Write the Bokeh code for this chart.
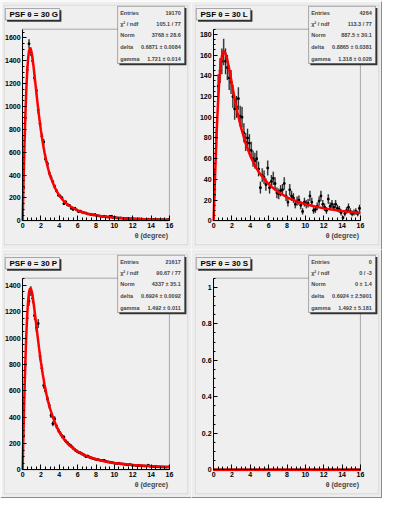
import math
from bokeh.plotting import figure
from bokeh.layouts import gridplot
from bokeh.models import Range1d, SingleIntervalTicker, Label, BoxAnnotation, ColumnDataSource
from bokeh.embed import file_html
from bokeh.resources import INLINE

# ---------------- data ----------------
x_lo, x_hi, n_bins = 0.0, 16.0, 80

g_counts = [290, 900, 1320, 1550, 1480, 1400, 1250, 1140, 970, 850,
            740, 690, 540, 500, 420, 380, 340, 300, 262, 225,
            215, 200, 150, 165, 140, 135, 110, 100, 110, 95,
            80, 85, 75, 70, 68, 60, 58, 55, 52, 54,
            45, 44, 40, 38, 40, 36, 33, 38, 40, 28,
            28, 26, 24, 25, 22, 22, 20, 21, 18, 17,
            18, 16, 15, 17, 14, 14, 13, 12, 14, 12,
            11, 12, 10, 11, 10, 9, 10, 9, 8, 12]
l_counts = [25, 80, 130, 145, 154, 163, 154, 148, 138, 134,
            120, 108, 110, 118, 101, 100, 85, 76, 80, 75,
            68, 60, 58, 60, 50, 32, 44, 42, 35, 51,
            32, 38, 41, 36, 27, 26, 29, 30, 36, 24,
            18, 30, 24, 22, 16, 19, 20, 15, 9, 18,
            16, 17, 24, 18, 10, 11, 14, 19, 24, 16,
            13, 10, 21, 14, 16, 13, 16, 12, 11, 8,
            3, 7, 10, 13, 9, 7, 8, 9, 7, 12]
p_counts = [260, 800, 1150, 1280, 1356, 1300, 1170, 1080, 1110, 860,
            770, 640, 600, 540, 490, 413, 350, 386, 330, 300,
            278, 255, 247, 218, 205, 190, 180, 165, 152, 142,
            133, 128, 120, 112, 100, 104, 96, 90, 86, 81,
            78, 76, 72, 70, 72, 62, 60, 58, 56, 52,
            50, 48, 50, 45, 44, 42, 40, 38, 40, 36,
            35, 34, 33, 32, 31, 30, 29, 28, 35, 27,
            26, 24, 25, 23, 22, 22, 21, 20, 20, 22]
s_counts = [0] * 80

fit_x = [0, 0.1, 0.2, 0.3, 0.4, 0.5, 0.6, 0.7, 0.8, 0.9, 1.0, 1.1, 1.2, 1.3, 1.4, 1.5, 1.6,
         1.8, 2.0, 2.2, 2.4, 2.6, 2.8, 3.0, 3.5, 4.0, 4.5, 5, 6, 7, 8, 9, 10, 12, 14, 16]
g_fit = [0, 331, 641, 914, 1138, 1307, 1422, 1487, 1511, 1500, 1465, 1411, 1346, 1274, 1199, 1124, 1050,
         912, 789, 683, 593, 516, 451, 396, 292, 221, 171.5, 135.9, 89.9, 63.0, 46.0, 34.8, 27.1, 17.5, 12.1, 8.7]
l_fit = [0, 27.1, 53.1, 77.3, 98.8, 117.2, 132.4, 144.2, 152.9, 158.7, 162.1, 163.5, 163.1, 161.4, 158.6, 155.1, 151.0,
         141.9, 132.1, 122.5, 113.3, 104.8, 96.9, 89.8, 74.6, 62.7, 53.4, 46.0, 35.3, 27.9, 22.7, 18.9, 16.0, 12.0, 9.4, 7.5]
p_fit = [0, 295, 573, 817, 1019, 1173, 1281, 1346, 1375, 1375, 1353, 1315, 1266, 1211, 1153, 1093, 1033,
         919, 815, 724, 644, 574, 514, 462, 360, 286, 233, 192, 137, 103, 80, 63, 52, 36, 27, 21]
s_fit_x = [0, 16]
s_fit = [0, 0]

titles = ["PSF \u03b8 = 30 G", "PSF \u03b8 = 30 L", "PSF \u03b8 = 30 P", "PSF \u03b8 = 30 S"]
stat_names = ["Entries", "\u03c7\u00b2 / ndf", "Norm", "delta", "gamma"]
g_stats = ["19170", "105.1 / 77", "3768 \u00b1 28.6", "0.6871 \u00b1 0.0084", "1.721 \u00b1 0.014"]
l_stats = ["4264", "113.3 / 77", "887.5 \u00b1 30.1", "0.8865 \u00b1 0.0381", "1.318 \u00b1 0.028"]
p_stats = ["21617", "90.67 / 77", "4337 \u00b1 35.1", "0.6924 \u00b1 0.0092", "1.492 \u00b1 0.011"]
s_stats = ["0", "0 / -3", "0 \u00b1 1.4", "0.6924 \u00b1 2.5901", "1.492 \u00b1 5.181"]
y_max = [1677, 185, 1454, 1.05]
y_step = [200, 20, 200, 0.2]
x_title = "\u03b8 (degree)"

# ---------------- style / layout (screen px, from each quadrant's bottom-left) ----------------
BG = "#efefef"
CANVAS = "#ededed"
PAD_EDGE = "#a9a9a9"
FONT = "Liberation Sans"
QW, QH = 191, 249
PL, PR, PB, PT = 3.8, 187.2, 4.8, 244.2          # pad box
FL, FR, FB, FT = 22.1, 168.9, 28.7, 220.3         # inner frame


def scr(**kw):
    d = {}
    for k, v in kw.items():
        d[k] = v
        d[k + "_units"] = "screen"
    return d


def make_pad(title, counts, fx, fy, ymax, ystep, stats, col, row):
    ppx = (FR - FL) / (x_hi - x_lo)
    ppy = (FT - FB) / ymax
    xr = Range1d(x_lo - FL / ppx, x_hi + (QW - FR) / ppx)
    yr = Range1d(0 - FB / ppy, ymax + (QH - FT) / ppy)
    p = figure(width=QW, height=QH, output_backend="svg", toolbar_location=None,
               x_range=xr, y_range=yr, min_border=0,
               background_fill_color=CANVAS, border_fill_color=CANVAS,
               outline_line_color=None)
    p.xgrid.visible = False
    p.ygrid.visible = False

    # canvas bevel
    if col == 0:
        p.add_layout(BoxAnnotation(**scr(left=0, right=1.2, bottom=0, top=QH), level="underlay",
                                   fill_color="white", fill_alpha=1, line_color=None))
    else:
        p.add_layout(BoxAnnotation(**scr(left=QW - 1.5, right=QW, bottom=0, top=QH), level="underlay",
                                   fill_color="#8c8c8c", fill_alpha=1, line_color=None))
    if row == 0:
        p.add_layout(BoxAnnotation(**scr(left=0, right=QW, bottom=QH - 1.2, top=QH), level="underlay",
                                   fill_color="white", fill_alpha=1, line_color=None))
    else:
        p.add_layout(BoxAnnotation(**scr(left=0, right=QW, bottom=0, top=1.5), level="underlay",
                                   fill_color="#8c8c8c", fill_alpha=1, line_color=None))
    # pad with bevel
    p.add_layout(BoxAnnotation(**scr(left=PL - 1, right=PR - 1, bottom=PB + 1, top=PT + 1), level="underlay",
                               fill_alpha=0, line_color="white", line_width=1))
    p.add_layout(BoxAnnotation(**scr(left=PL, right=PR, bottom=PB, top=PT), level="underlay",
                               fill_color=BG, fill_alpha=1, line_color=PAD_EDGE, line_width=1))
    # frame box
    p.add_layout(BoxAnnotation(left=x_lo, right=x_hi, bottom=0, top=ymax, level="underlay",
                               fill_alpha=0, line_color="black", line_width=1))

    w = (x_hi - x_lo) / n_bins
    xc = [x_lo + w * (i + 0.5) for i in range(n_bins)]
    err = [math.sqrt(c) for c in counts]
    src = ColumnDataSource(dict(
        x=xc, y=counts,
        lo=[c - e for c, e in zip(counts, err)], hi=[c + e for c, e in zip(counts, err)],
        l=[x - w / 2 for x in xc], r=[x + w / 2 for x in xc]))
    p.quad(left="l", right="r", bottom="lo", top="hi", source=src,
           fill_color="#a8a8a8", fill_alpha=1, line_color=None)
    p.segment(x0="x", y0="lo", x1="x", y1="hi", source=src, line_color="black", line_width=0.8)
    p.segment(x0="l", y0="y", x1="r", y1="y", source=src, line_color="black", line_width=0.8)
    p.scatter("x", "y", source=src, marker="square", size=1.6, color="black")
    p.line(fx, fy, line_color="#ff0000", line_width=2.5)

    xa, ya = p.xaxis[0], p.yaxis[0]
    xa.fixed_location = 0
    ya.fixed_location = x_lo
    xa.bounds = (x_lo, x_hi)
    ya.bounds = (0, ymax)
    xa.ticker = SingleIntervalTicker(interval=2, num_minor_ticks=4)
    ya.ticker = SingleIntervalTicker(interval=ystep, num_minor_ticks=4)
    if ystep < 1:
        ya.major_label_overrides = {0: "0", 1: "1"}
    for ax, tin, tmin in ((xa, 5, 3), (ya, 4, 2)):
        ax.major_tick_in = tin
        ax.major_tick_out = 0
        ax.minor_tick_in = tmin
        ax.minor_tick_out = 0
        ax.axis_line_color = "black"
        ax.major_tick_line_color = "black"
        ax.minor_tick_line_color = "black"
        ax.major_label_text_font = FONT
        ax.major_label_text_font_size = "7px"
        ax.major_label_text_font_style = "bold"
        ax.major_label_text_color = "black"
        ax.major_label_standoff = 2
    p.add_layout(Label(**scr(x=FR - 1.4, y=13.6), text=x_title, text_font=FONT, text_font_size="7px",
                       text_font_style="bold", text_baseline="middle", text_align="right"))

    # title box
    p.add_layout(BoxAnnotation(**scr(left=6.6, right=60.9, bottom=227.8, top=239.2),
                               fill_color="#333333", fill_alpha=1, line_color=None))
    p.add_layout(BoxAnnotation(**scr(left=4.8, right=59.1, bottom=229.6, top=241.0),
                               fill_color=BG, fill_alpha=1, line_color="black", line_width=1))
    p.add_layout(Label(**scr(x=9.0, y=235.2), text=title, text_font=FONT, text_font_size="8px",
                       text_font_style="bold", text_baseline="middle", text_align="left",
                       text_color="black"))

    # stats box
    p.add_layout(BoxAnnotation(**scr(left=118.9, right=185.9, bottom=184.2, top=241.4),
                               fill_color="#333333", fill_alpha=1, line_color=None))
    p.add_layout(BoxAnnotation(**scr(left=117.1, right=184.1, bottom=186.0, top=243.2),
                               fill_color=BG, fill_alpha=1, line_color="black", line_width=1))
    rows_y = [236.1, 225.7, 214.1, 202.2, 190.9]
    for name, val, yy in zip(stat_names, stats, rows_y):
        p.add_layout(Label(**scr(x=119.7, y=yy), text=name, text_font=FONT, text_font_size="5.5px",
                           text_font_style="bold", text_baseline="middle", text_align="left"))
        p.add_layout(Label(**scr(x=180.3, y=yy), text=val, text_font=FONT, text_font_size="5.5px",
                           text_font_style="bold", text_baseline="middle", text_align="right"))
    return p


p1 = make_pad(titles[0], g_counts, fit_x, g_fit, y_max[0], y_step[0], g_stats, 0, 0)
p2 = make_pad(titles[1], l_counts, fit_x, l_fit, y_max[1], y_step[1], l_stats, 1, 0)
p3 = make_pad(titles[2], p_counts, fit_x, p_fit, y_max[2], y_step[2], p_stats, 0, 1)
p4 = make_pad(titles[3], s_counts, s_fit_x, s_fit, y_max[3], y_step[3], s_stats, 1, 1)

grid = gridplot([[p1, p2], [p3, p4]], toolbar_location=None)

open("out.html", "w").write(file_html(grid, INLINE))
